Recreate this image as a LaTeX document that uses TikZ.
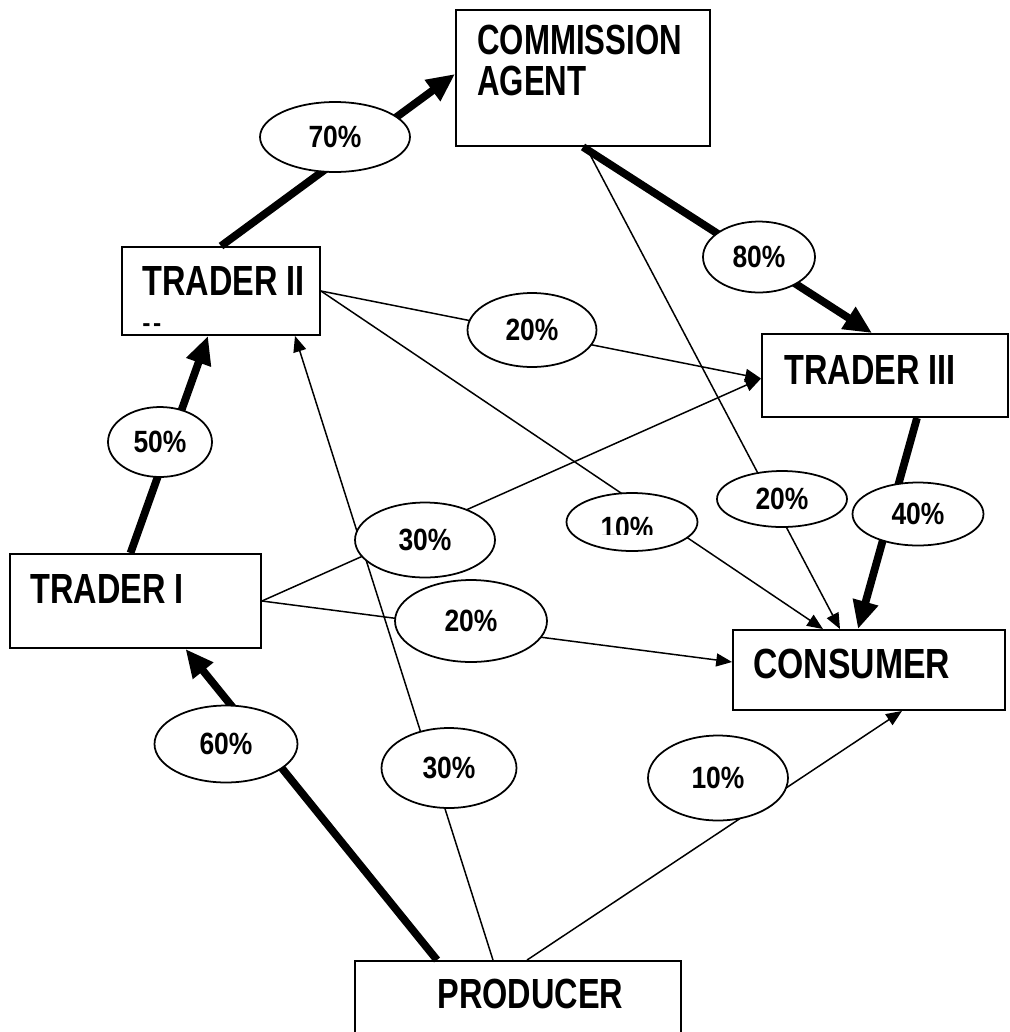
\documentclass[tikz,border=0pt]{standalone}
\usepackage{fontspec}
\setmainfont{Liberation Sans}
\usepackage{graphicx}
\usetikzlibrary{arrows.meta,shapes.geometric,calc}
\newcommand{\condtext}[2][0.77]{\scalebox{#1}[1]{#2}}

\begin{document}
\begin{tikzpicture}[x=0.02cm,y=-0.02cm]
  \tikzstyle{box}     = [rectangle,draw=black,line width=1.1pt,fill=white,inner sep=0pt]
  \tikzstyle{boxtext} = [anchor=base west,inner sep=0pt,font=\bfseries\fontsize{24}{23.2}\selectfont]
  \tikzstyle{pct}     = [ellipse,draw=black,line width=1pt,fill=white,inner sep=0pt,font=\bfseries\fontsize{17.5}{18}\selectfont]
  \tikzstyle{flow}    = [line width=4.4pt,-{Triangle[length=16pt,width=14pt]}]
  \tikzstyle{share}   = [line width=0.85pt,-{Triangle[length=9pt,width=7.4pt]}]
  \useasboundingbox (0,0) rectangle (1010,1032);
  \clip (0,0) rectangle (1010,1032);
  % Boxes of the market chain
  \path (583,  78)   node[box,minimum width=5.08cm,minimum height=2.72cm](ca)   {};
  \path (221,  291)  node[box,minimum width=3.96cm,minimum height=1.76cm](t2)   {};
  \path (885,  375.5)node[box,minimum width=4.92cm,minimum height=1.66cm](t3)   {};
  \path (135.5,601)  node[box,minimum width=5.02cm,minimum height=1.88cm](t1)   {};
  \path (869,  670)  node[box,minimum width=5.44cm,minimum height=1.60cm](cons) {};
  \path (518,  1005) node[box,minimum width=6.52cm,minimum height=1.76cm](prod) {};
  \path (477,  54)   node[boxtext](catxt)   {\condtext[0.74]{\begin{tabular}[t]{@{}l@{}}COMMISSION\\AGENT\end{tabular}}};
  \path (142,  295)  node[boxtext](t2txt)   {\condtext{TRADER II}};
  \path (142,  331)  node[boxtext,font=\bfseries\fontsize{14}{16}\selectfont](t2dash) {\mbox{-}\hspace{1.5pt}\mbox{-}};
  \path (784,  384)  node[boxtext](t3txt)   {\condtext{TRADER III}};
  \path (30,   603)  node[boxtext](t1txt)   {\condtext{TRADER I}};
  \path (753,  678)  node[boxtext](constxt) {\condtext[0.8]{CONSUMER}};
  \path (437,  1008) node[boxtext](prodtxt) {\condtext{PRODUCER}};
  % Main flows
  \draw[flow] ($(t1.north)+(-5,0)$)    -- ($(t2.south)+(-13,0)$);
  \draw[flow] (t2.north)               -- ($(ca.west)+(0,-4)$);
  \draw[flow] (ca.south)               -- ($(t3.north)+(-13,0)$);
  \draw[flow] ($(t3.south)+(32,0)$)    -- ($(cons.north)+(-11,0)$);
  \draw[flow] ($(prod.north)+(-81,0)$) -- ($(t1.south)+(50,0)$);
  % Minor flows
  \draw[share] ($(prod.north)+(-25,0)$) -- ($(t2.south)+(74,0)$);
  \draw[share] ($(prod.north)+(9,0)$)   -- ($(cons.south)+(33,0)$);
  \draw[share] (t1.east)                -- ($(t3.west)+(0,3)$);
  \draw[share] (t1.east)                -- ($(cons.west)+(0,-8)$);
  \draw[share] (t2.east)                -- ($(t3.west)+(0,3)$);
  \draw[share] (t2.east)                -- ($(cons.north)+(-46,0)$);
  \draw[share] ($(ca.south)+(3,0)$)     -- ($(cons.north)+(-29,0)$);
  % Shares
  \path (335,137) node[pct,minimum width=3.00cm,minimum height=1.40cm](p70)  {\condtext[0.86]{70\%}};
  \path (759,257) node[pct,minimum width=2.24cm,minimum height=1.42cm](p80)  {\condtext[0.86]{80\%}};
  \path (532,330) node[pct,minimum width=2.58cm,minimum height=1.48cm](p20a) {\condtext[0.86]{20\%}};
  \path (160,442) node[pct,minimum width=2.08cm,minimum height=1.40cm](p50)  {\condtext[0.86]{50\%}};
  \path (425,540) node[pct,minimum width=2.80cm,minimum height=1.50cm](p30a) {\condtext[0.86]{30\%}};
  \path (632,522) node[pct,minimum width=2.62cm,minimum height=1.16cm](p10a) {};
  \path (782,499) node[pct,minimum width=2.60cm,minimum height=1.12cm](p20b) {\condtext[0.86]{20\%}};
  \path (918,514) node[pct,minimum width=2.62cm,minimum height=1.26cm](p40)  {\condtext[0.86]{40\%}};
  \path (471,621) node[pct,minimum width=3.04cm,minimum height=1.64cm](p20c) {\condtext[0.86]{20\%}};
  \path (226,744) node[pct,minimum width=2.86cm,minimum height=1.54cm](p60)  {\condtext[0.86]{60\%}};
  \path (449,768) node[pct,minimum width=2.70cm,minimum height=1.60cm](p30b) {\condtext[0.86]{30\%}};
  \path (718,778) node[pct,minimum width=2.80cm,minimum height=1.70cm](p10b) {\condtext[0.86]{10\%}};
  \begin{scope}
    \clip (570,500) rectangle (695,534);
    \path (627,538) node[anchor=base,inner sep=0pt,font=\bfseries\fontsize{17.5}{18}\selectfont](p10atxt) {\condtext[0.86]{10\%}};
  \end{scope}
\end{tikzpicture}
\end{document}
